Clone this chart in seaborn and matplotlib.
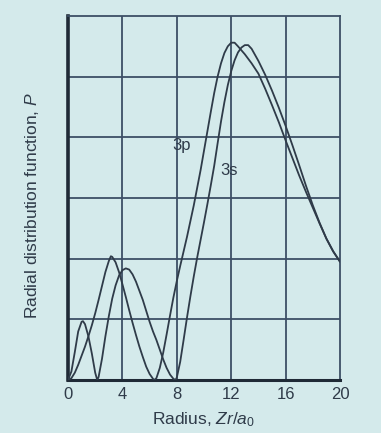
import numpy as np
import pandas as pd
import matplotlib
matplotlib.use("Agg")
import matplotlib.pyplot as plt
import seaborn as sns

# ---- data ----
r_3s = [0.0, 0.25, 0.5, 0.75, 1.0, 1.1, 1.25, 1.5, 1.75, 2.0, 2.15,
        2.25, 2.5, 2.75, 3.0, 3.25, 3.5, 3.75, 4.0, 4.25, 4.5, 4.75, 5.0,
        5.25, 5.5, 5.75, 6.0, 6.25, 6.5, 6.75, 7.0, 7.25, 7.5, 7.75, 7.9,
        8.0, 8.25, 8.5, 8.75, 9.0, 9.25, 9.5, 9.75, 10.0, 10.25, 10.5,
        10.75, 11.0, 11.25, 11.5, 11.75, 12.0, 12.25, 12.5, 12.75, 13.0,
        13.25, 13.5, 14.0, 14.5, 15.0, 15.5, 16.0, 16.5, 17.0, 17.5, 18.0,
        18.5, 19.0, 19.5, 20.0]
p_3s = [0.0, 0.14, 0.46, 0.80, 0.96, 0.97, 0.92, 0.72, 0.44, 0.12, 0.0,
        0.05, 0.35, 0.72, 1.05, 1.34, 1.56, 1.72, 1.81, 1.84, 1.82, 1.74, 1.62,
        1.47, 1.32, 1.14, 0.96, 0.80, 0.66, 0.50, 0.34, 0.20, 0.09, 0.02, 0.0,
        0.04, 0.30, 0.66, 1.03, 1.38, 1.71, 2.02, 2.31, 2.60, 2.90, 3.21,
        3.53, 3.90, 4.26, 4.58, 4.86, 5.09, 5.27, 5.40, 5.48, 5.52,
        5.52, 5.46, 5.26, 5.03, 4.77, 4.49, 4.19, 3.87, 3.54, 3.20, 2.88,
        2.59, 2.33, 2.12, 1.95]

r_3p = [0.0, 0.25, 0.5, 0.75, 1.0, 1.25, 1.5, 1.75, 2.0, 2.25, 2.5, 2.75,
        3.0, 3.15, 3.25, 3.5, 3.75, 4.0, 4.25, 4.5, 4.75, 5.0, 5.25, 5.5,
        5.75, 6.0, 6.25, 6.35, 6.5, 6.75, 7.0, 7.25, 7.5, 7.75, 8.0, 8.25,
        8.5, 8.75, 9.0, 9.25, 9.5, 9.75, 10.0, 10.25, 10.5, 10.75, 11.0,
        11.25, 11.5, 11.75, 12.0, 12.25, 12.5, 13.0, 13.5, 14.0, 14.5, 15.0,
        15.5, 16.0, 16.5, 17.0, 17.5, 18.0, 18.5, 19.0, 19.5, 20.0]
p_3p = [0.0, 0.03, 0.12, 0.25, 0.40, 0.55, 0.72, 0.90, 1.10, 1.32, 1.55, 1.78,
        1.96, 2.04, 2.03, 1.94, 1.78, 1.58, 1.37, 1.15, 0.94, 0.74, 0.55, 0.38,
        0.22, 0.10, 0.02, 0.0, 0.03, 0.20, 0.45, 0.75, 1.06, 1.36, 1.63, 1.88,
        2.12, 2.36, 2.62, 2.88, 3.17, 3.46, 3.78, 4.10, 4.42, 4.73, 5.00,
        5.22, 5.39, 5.50, 5.56, 5.56, 5.50, 5.37, 5.22, 5.05, 4.80, 4.53,
        4.25, 3.95, 3.66, 3.37, 3.10, 2.84, 2.58, 2.33, 2.12, 1.95]

x_ticks = [0, 4, 8, 12, 16, 20]
x_tick_labels = ["0", "4", "8", "12", "16", "20"]
y_grid = [1, 2, 3, 4, 5]
labels = ["3p", "3s"]
label_pos_r = [8.36, 11.86]
label_pos_p = [3.87, 3.46]

# ---- style ----
sns.set_theme(style="white")
plt.rcParams["font.family"] = ["Liberation Sans", "DejaVu Sans"]
plt.rcParams["mathtext.fontset"] = "custom"
plt.rcParams["mathtext.it"] = "Liberation Sans:italic"
plt.rcParams["mathtext.rm"] = "Liberation Sans"

bg = "#d4eaeb"
ink = "#2f3b49"
grid_c = "#3d4f66"

fig = plt.figure(figsize=(3.81, 4.33), dpi=100, facecolor=bg)
ax = fig.add_axes([68 / 381, 53 / 433, (340 - 68) / 381, (380 - 16) / 433])
ax.set_facecolor(bg)

df = pd.concat([
    pd.DataFrame({"r": r_3s, "P": p_3s, "orbital": "3s"}),
    pd.DataFrame({"r": r_3p, "P": p_3p, "orbital": "3p"}),
])

# grid
for xv in x_ticks[1:-1]:
    ax.axvline(xv, color=grid_c, lw=1.3, zorder=1)
for yv in y_grid:
    ax.axhline(yv, color=grid_c, lw=1.3, zorder=1)

sns.lineplot(data=df, x="r", y="P", hue="orbital", palette=[ink, ink],
             lw=1.3, legend=False, ax=ax, sort=False, estimator=None,
             zorder=3)

for t, xr, yp in zip(labels, label_pos_r, label_pos_p):
    ax.text(xr, yp, t, fontsize=12, color=ink, ha="center", va="center",
            zorder=4)

ax.set_xlim(0, 20)
ax.set_ylim(0, 6)
ax.set_xticks(x_ticks)
ax.set_xticklabels(x_tick_labels)
ax.set_yticks([])
ax.tick_params(axis="x", length=0, pad=5, labelsize=12, colors=ink)

for side in ["top", "right"]:
    ax.spines[side].set_color(grid_c)
    ax.spines[side].set_linewidth(1.3)
ax.spines["left"].set_color("#1f2a36")
ax.spines["left"].set_linewidth(2.6)
ax.spines["bottom"].set_color("#1f2a36")
ax.spines["bottom"].set_linewidth(2.2)

ax.set_xlabel(r"Radius, $Zr/a_0$", fontsize=12.5, color=ink, labelpad=6)
ax.set_ylabel(r"Radial distribution function, $P$", fontsize=12.5, color=ink)
ax.yaxis.set_label_coords(-0.10, 0.48)

fig.savefig("out.png", dpi=100, facecolor=bg)
